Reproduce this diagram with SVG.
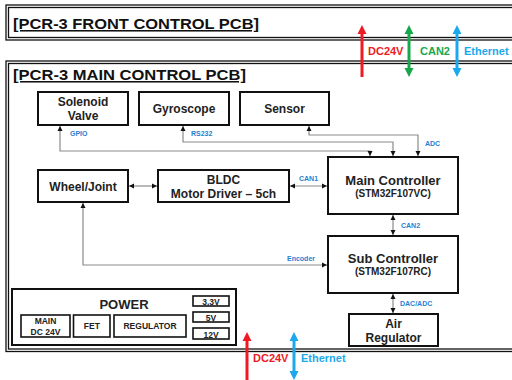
<svg xmlns="http://www.w3.org/2000/svg" width="512" height="380" viewBox="0 0 512 380">
<style>
.frame{fill:none;stroke:#111;stroke-width:1.3}
.node{fill:#fff;stroke:#111;stroke-width:2}
.pw{fill:#fff;stroke:#111;stroke-width:1.6}
.title{font-family:"Liberation Sans",Arial,sans-serif;font-weight:bold;font-size:15.5px;fill:#111;text-decoration:underline}
.t{font-family:"Liberation Sans",Arial,sans-serif;font-weight:bold;font-size:12px;fill:#222;text-anchor:middle}
.tl{font-family:"Liberation Sans",Arial,sans-serif;font-weight:bold;font-size:13px;fill:#222;text-anchor:middle}
.ts{font-family:"Liberation Sans",Arial,sans-serif;font-weight:bold;font-size:10px;fill:#222;text-anchor:middle}
.tp{font-family:"Liberation Sans",Arial,sans-serif;font-weight:bold;font-size:8.5px;fill:#222;text-anchor:middle}
.lbl{font-family:"Liberation Sans",Arial,sans-serif;font-weight:bold;font-size:7px;fill:#1f7fd0}
.big{font-family:"Liberation Sans",Arial,sans-serif;font-weight:bold;font-size:11px}
.c{fill:none;stroke:#8a8a8a;stroke-width:1.2;marker-end:url(#ah)}
.cb{fill:none;stroke:#8a8a8a;stroke-width:1.2;marker-start:url(#ahs);marker-end:url(#ah)}
</style>
<defs>
<marker id="ah" markerUnits="userSpaceOnUse" markerWidth="6" markerHeight="6" refX="5" refY="3" orient="auto"><path d="M0,0.5 L5,3 L0,5.5 Z" fill="#111"/></marker>
<marker id="ahs" markerUnits="userSpaceOnUse" markerWidth="6" markerHeight="6" refX="0" refY="3" orient="auto"><path d="M5,0.5 L0,3 L5,5.5 Z" fill="#111"/></marker>
</defs>
<rect width="512" height="380" fill="#fff"/>

<g id="front-pcb">
<rect class="frame" x="6" y="5" width="520" height="35"/>
<rect class="frame" x="8.5" y="7.5" width="520" height="30"/>
<text class="title" x="13" y="29" textLength="246" lengthAdjust="spacingAndGlyphs">[PCR-3 FRONT CONTROL PCB]</text>
</g>

<g id="main-pcb">
<rect class="frame" x="6" y="61" width="520" height="290.5"/>
<rect class="frame" x="8.5" y="63.5" width="520" height="285.5"/>
<text class="title" x="13" y="80" textLength="233" lengthAdjust="spacingAndGlyphs">[PCR-3 MAIN CONTROL PCB]</text>
</g>

<g id="connectors">
<path class="cb" d="M60,126 V151 H370 V156"/>
<path class="cb" d="M183,126 V142 H393 V156"/>
<path class="cb" d="M309,126 V135 H418 V156"/>
<path class="cb" d="M129,186 H157"/>
<path class="cb" d="M290,186 H327"/>
<path class="cb" d="M83,203 V265 H327"/>
<path class="cb" d="M393,215 V235"/>
<path class="cb" d="M393,294 V313"/>
<text class="lbl" x="70" y="136">GPIO</text>
<text class="lbl" x="191" y="136">RS232</text>
<text class="lbl" x="425" y="146">ADC</text>
<text class="lbl" x="299" y="181">CAN1</text>
<text class="lbl" x="287" y="261">Encoder</text>
<text class="lbl" x="401" y="228">CAN2</text>
<text class="lbl" x="400" y="306">DAC/ADC</text>
</g>

<g id="solenoid-valve"><rect class="node" x="38" y="92" width="90" height="33"/><text class="t" x="83" y="106">Solenoid</text><text class="t" x="83" y="120">Valve</text></g>
<g id="gyroscope"><rect class="node" x="139" y="92" width="90" height="33"/><text class="t" x="184" y="113">Gyroscope</text></g>
<g id="sensor"><rect class="node" x="240" y="92" width="89" height="33"/><text class="t" x="284.5" y="113">Sensor</text></g>
<g id="wheel-joint"><rect class="node" x="38" y="170" width="90" height="32"/><text class="t" x="83" y="191">Wheel/Joint</text></g>
<g id="bldc"><rect class="node" x="158" y="170" width="131" height="32"/><text class="t" x="223.5" y="184">BLDC</text><text class="t" x="223.5" y="198">Motor Driver – 5ch</text></g>
<g id="main-controller"><rect class="node" x="328" y="157" width="130" height="57"/><text class="tl" x="393" y="185">Main Controller</text><text class="ts" x="393" y="197">(STM32F107VC)</text></g>
<g id="sub-controller"><rect class="node" x="328" y="236" width="130" height="57"/><text class="tl" x="393" y="263">Sub Controller</text><text class="ts" x="393" y="275">(STM32F107RC)</text></g>
<g id="air-regulator"><rect class="node" x="349" y="314" width="89" height="32"/><text class="t" x="393.5" y="328">Air</text><text class="t" x="393.5" y="342">Regulator</text></g>

<g id="power">
<rect x="12" y="289" width="224" height="56" fill="#fff" stroke="#111" stroke-width="2"/>
<text class="t" x="124" y="309" style="font-size:13px">POWER</text>
<rect class="pw" x="21" y="315" width="49" height="22"/><text class="tp" x="45.5" y="324">MAIN</text><text class="tp" x="45.5" y="334.5">DC 24V</text>
<rect class="pw" x="73.5" y="315" width="36.5" height="22"/><text class="tp" x="91.8" y="329">FET</text>
<rect class="pw" x="114" y="315" width="72" height="22"/><text class="tp" x="150" y="329">REGULATOR</text>
<rect class="pw" x="193" y="296" width="36" height="10"/><text class="tp" x="211" y="304.5">3.3V</text>
<rect class="pw" x="193" y="312" width="36" height="10"/><text class="tp" x="211" y="320.5">5V</text>
<rect class="pw" x="193" y="328" width="36" height="11"/><text class="tp" x="211" y="337.5">12V</text>
</g>

<g id="ext-top">
<path d="M362,77 V32" stroke="#ee1b24" stroke-width="3"/><path d="M357.5,34 L362,25 L366.5,34 Z" fill="#ee1b24"/>
<text class="big" x="368" y="55" fill="#ee1b24">DC24V</text>
<path d="M409,32 V70" stroke="#17a84c" stroke-width="3"/><path d="M404.5,34 L409,25 L413.5,34 Z M404.5,68 L409,77 L413.5,68 Z" fill="#17a84c"/>
<text class="big" x="420" y="55" fill="#17a84c">CAN2</text>
<path d="M457,32 V70" stroke="#1ba9ec" stroke-width="3"/><path d="M452.5,34 L457,25 L461.5,34 Z M452.5,68 L457,77 L461.5,68 Z" fill="#1ba9ec"/>
<text class="big" x="464" y="55" fill="#1ba9ec">Ethernet</text>
</g>

<g id="ext-bottom">
<path d="M247,380 V339" stroke="#ee1b24" stroke-width="3"/><path d="M242.5,341 L247,332 L251.5,341 Z" fill="#ee1b24"/>
<text class="big" x="253" y="362" fill="#ee1b24">DC24V</text>
<path d="M294,339 V373" stroke="#1ba9ec" stroke-width="3"/><path d="M289.5,341 L294,332 L298.5,341 Z M289.5,371 L294,380 L298.5,371 Z" fill="#1ba9ec"/>
<text class="big" x="301" y="362" fill="#1ba9ec">Ethernet</text>
</g>
</svg>
